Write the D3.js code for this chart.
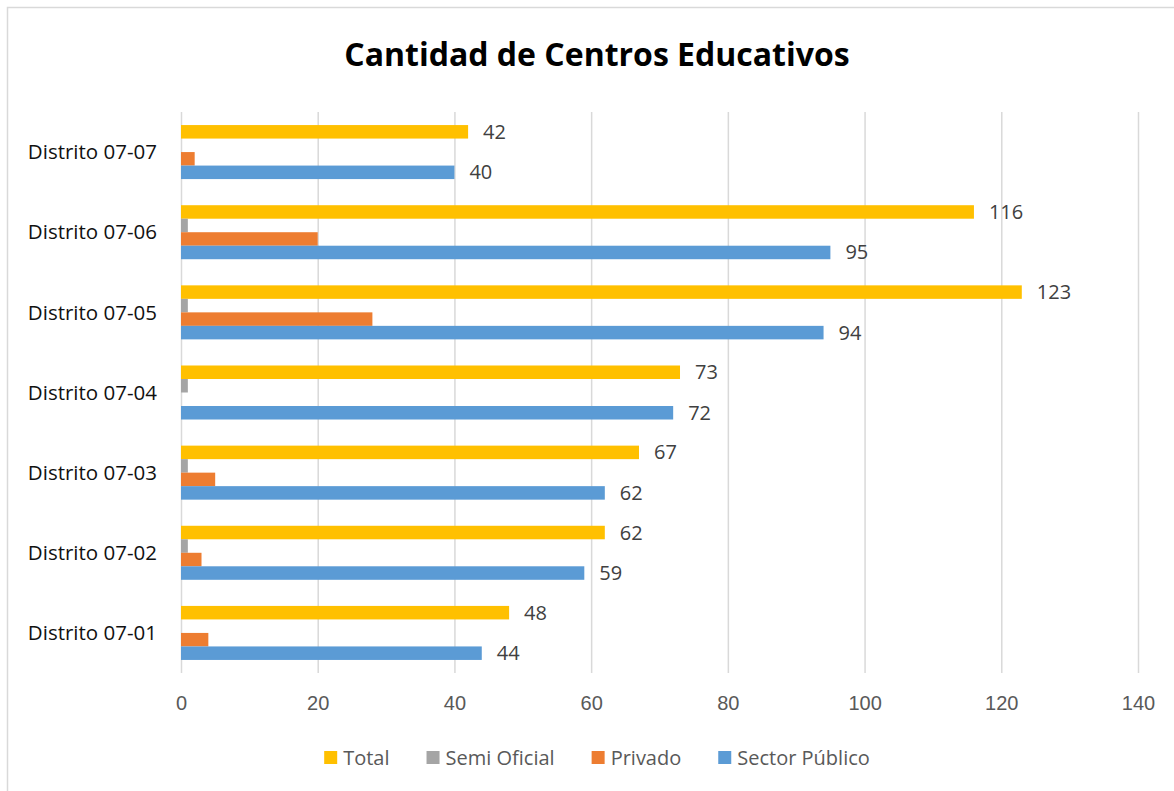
<!DOCTYPE html>
<html lang="es">
<head>
  <meta charset="UTF-8" />
  <title>Cantidad de Centros Educativos</title>
  <script src="https://d3js.org/d3.v7.min.js"></script>
  <style>
    body {
      margin: 0;
      background: #fff;
    }
    svg {
      display: block;
      font-family: "Open Sans", "Noto Sans", sans-serif;
    }
    .grid line {
      stroke: #d9d9d9;
      stroke-width: 1.5px;
    }
    .grid text {
      fill: #595959;
      font-size: 20px;
    }
    .cat-label {
      fill: #111;
      font-size: 20.5px;
    }
    .val-label {
      fill: #404040;
      font-size: 20px;
    }
    .legend text {
      fill: #595959;
      font-size: 20px;
    }
  </style>
</head>
<body>
  <svg width="1174" height="791"></svg>

  <script>
    const width = 1174;
    const height = 791;

    // datos, de arriba hacia abajo
    const distritos = ["Distrito 07-07", "Distrito 07-06", "Distrito 07-05", "Distrito 07-04",
                       "Distrito 07-03", "Distrito 07-02", "Distrito 07-01"];
    const series = ["Total", "Semi Oficial", "Privado", "Sector Público"];
    const total        = [42, 116, 123, 73, 67, 62, 48];
    const semiOficial  = [0, 1, 1, 1, 1, 1, 0];
    const privado      = [2, 20, 28, 0, 5, 3, 4];
    const sectorPublico = [40, 95, 94, 72, 62, 59, 44];
    const xTicks = [0, 20, 40, 60, 80, 100, 120, 140];
    const colores = ["#ffc000", "#a5a5a5", "#ed7d31", "#5b9bd5"];
    const conEtiqueta = ["Total", "Sector Público"];

    const valores = [total, semiOficial, privado, sectorPublico];
    const data = distritos.map((d, i) => ({
      distrito: d,
      valores: series.map((s, j) => ({ serie: s, valor: valores[j][i] }))
    }));

    const margin = { top: 112, right: 36, bottom: 118, left: 181 };
    const svg = d3.select("svg");

    // borde del área del gráfico
    svg.append("rect")
      .attr("x", 7.5).attr("y", 7.5)
      .attr("width", 1200).attr("height", 800)
      .attr("fill", "none")
      .attr("stroke", "#d9d9d9")
      .attr("stroke-width", 1.5);

    svg.append("text")
      .attr("x", 597)
      .attr("y", 55)
      .attr("dy", "0.35em")
      .attr("text-anchor", "middle")
      .attr("font-size", 32)
      .attr("font-weight", "bold")
      .attr("fill", "#000")
      .text("Cantidad de Centros Educativos");

    const x = d3.scaleLinear()
      .domain([0, 140])
      .range([margin.left, 1138]);

    const y = d3.scaleBand()
      .domain(distritos)
      .range([margin.top, 673])
      .paddingInner(0.326)
      .paddingOuter(0.163);

    const ySub = d3.scaleBand()
      .domain(series)
      .range([0, y.bandwidth()]);

    const color = d3.scaleOrdinal().domain(series).range(colores);

    // rejilla + etiquetas del eje
    svg.append("g")
      .attr("class", "grid")
      .attr("transform", `translate(0,673)`)
      .call(d3.axisBottom(x)
        .tickValues(xTicks)
        .tickSize(-(673 - margin.top))
        .tickPadding(23))
      .call(g => g.select(".domain").remove())
      .call(g => g.selectAll("text").attr("font-family", null).attr("font-size", null));

    const grupos = svg.selectAll(".grupo")
      .data(data)
      .enter()
      .append("g")
      .attr("class", "grupo")
      .attr("transform", d => `translate(0,${y(d.distrito)})`);

    grupos.selectAll("rect")
      .data(d => d.valores)
      .enter()
      .append("rect")
      .attr("x", x(0))
      .attr("y", d => ySub(d.serie))
      .attr("width", d => x(d.valor) - x(0))
      .attr("height", ySub.bandwidth())
      .attr("fill", d => color(d.serie));

    grupos.selectAll(".val-label")
      .data(d => d.valores.filter(v => conEtiqueta.includes(v.serie)))
      .enter()
      .append("text")
      .attr("class", "val-label")
      .attr("x", d => x(d.valor) + 15)
      .attr("y", d => ySub(d.serie) + ySub.bandwidth() / 2)
      .attr("dy", "0.35em")
      .text(d => d.valor);

    svg.selectAll(".cat-label")
      .data(distritos)
      .enter()
      .append("text")
      .attr("class", "cat-label")
      .attr("x", 157)
      .attr("y", d => y(d) + y.bandwidth() / 2)
      .attr("dy", "0.35em")
      .attr("text-anchor", "end")
      .text(d => d);

    // leyenda centrada
    const legend = svg.append("g").attr("class", "legend");
    const items = legend.selectAll("g")
      .data(series)
      .enter()
      .append("g");

    items.append("rect")
      .attr("width", 13)
      .attr("height", 13)
      .attr("y", -7)
      .attr("fill", d => color(d));

    items.append("text")
      .attr("x", 19)
      .attr("dy", "0.35em")
      .text(d => d);

    const gap = 37;
    let pos = 0;
    items.each(function () {
      const w = this.getBBox().width;
      d3.select(this).attr("transform", `translate(${pos},0)`);
      pos += w + gap;
    });
    const legendWidth = pos - gap;
    legend.attr("transform", `translate(${597 - legendWidth / 2},758)`);
  </script>
</body>
</html>
